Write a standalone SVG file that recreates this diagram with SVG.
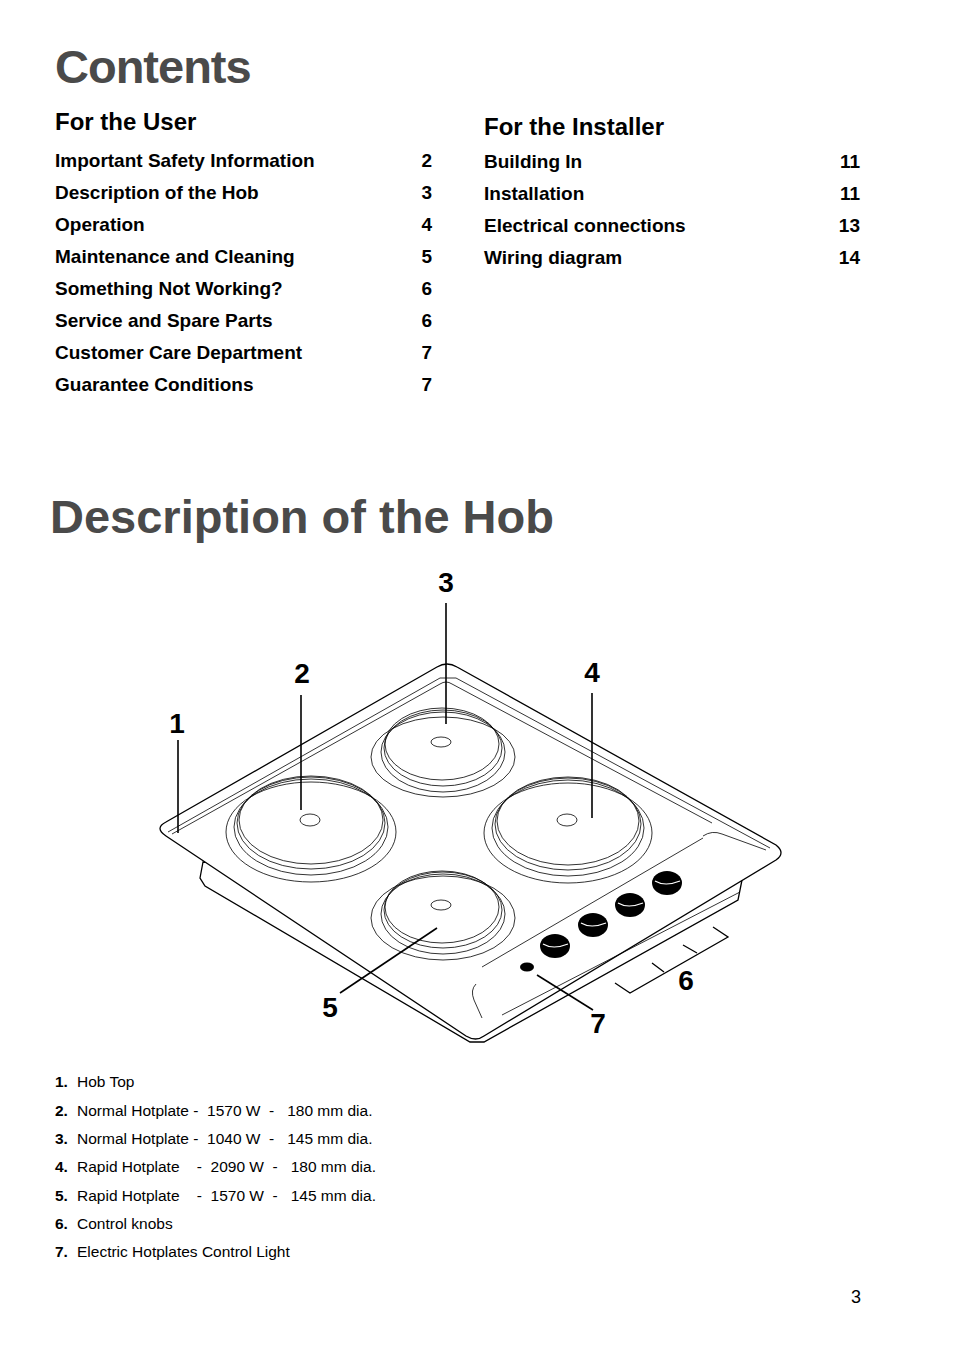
<svg xmlns="http://www.w3.org/2000/svg" width="954" height="1351" viewBox="0 0 954 1351">
<style>
text{font-family:"Liberation Sans",Arial,sans-serif;fill:#000}
.h1{font-size:47px;font-weight:bold;fill:#4a4a4a}
.h2{font-size:24px;font-weight:bold}
.e{font-size:19px;font-weight:bold}
.n{font-size:19px;font-weight:bold;text-anchor:end}
.lbl{font-size:28px;font-weight:bold;text-anchor:middle}
.li{font-size:15.5px}
.lb{font-size:15.5px;font-weight:bold}
.s{fill:none;stroke:#000;stroke-width:1.3}
.t{fill:none;stroke:#000;stroke-width:0.8}
.w{fill:#fff;stroke:#000;stroke-width:1.3}
.k{fill:#000}
.ld{fill:none;stroke:#000;stroke-width:1.6}
</style>
<rect width="954" height="1351" fill="#fff"/>
<text class="h1" x="55" y="83" letter-spacing="-1">Contents</text>
<text class="h2" x="55" y="130">For the User</text>
<g>
<text class="e" x="55" y="167">Important Safety Information</text><text class="n" x="432" y="167">2</text>
<text class="e" x="55" y="199">Description of the Hob</text><text class="n" x="432" y="199">3</text>
<text class="e" x="55" y="231">Operation</text><text class="n" x="432" y="231">4</text>
<text class="e" x="55" y="263">Maintenance and Cleaning</text><text class="n" x="432" y="263">5</text>
<text class="e" x="55" y="295">Something Not Working?</text><text class="n" x="432" y="295">6</text>
<text class="e" x="55" y="327">Service and Spare Parts</text><text class="n" x="432" y="327">6</text>
<text class="e" x="55" y="359">Customer Care Department</text><text class="n" x="432" y="359">7</text>
<text class="e" x="55" y="391">Guarantee Conditions</text><text class="n" x="432" y="391">7</text>
</g>
<text class="h2" x="484" y="135">For the Installer</text>
<g>
<text class="e" x="484" y="168">Building In</text><text class="n" x="860" y="168">11</text>
<text class="e" x="484" y="200">Installation</text><text class="n" x="860" y="200">11</text>
<text class="e" x="484" y="232">Electrical connections</text><text class="n" x="860" y="232">13</text>
<text class="e" x="484" y="264">Wiring diagram</text><text class="n" x="860" y="264">14</text>
</g>
<text class="h1" x="50" y="533">Description of the Hob</text>

<g id="hob">
<path class="w" d="M203,862 L200,878 L205,886 L470,1042 L484,1042 L738,900 L742,880 Z"/>
<path class="w" d="M437,667 Q447,661 457,667 L776,845 Q786,853 776,860 L484,1036 Q476,1042 466,1036 L166,836 Q154,828 166,822 Z"/>
<path class="t" d="M172,834 L440,684 Q446,680 452,684 L712,823"/>
<path class="t" d="M168,832 L440,678 L456,678 L770,848"/>
<path class="t" d="M703,836 Q712,830 722,834 L766,850"/>
<path class="t" d="M476,984 Q470,990 474,1000 L482,1018"/>
<path class="t" d="M502,1015 L740,892"/>
<path class="t" d="M482,967 L703,838"/>
</g>
<g id="burner3">
<ellipse class="t" cx="443" cy="757" rx="72" ry="40"/>
<ellipse class="t" cx="443" cy="752" rx="62" ry="40"/>
<ellipse class="t" cx="443" cy="748" rx="59" ry="38"/>
<ellipse class="t" cx="442" cy="744" rx="57" ry="36"/>
<ellipse class="t" cx="441" cy="742" rx="10" ry="5"/>
</g>
<g id="burner2">
<ellipse class="t" cx="311" cy="832" rx="85" ry="50"/>
<ellipse class="t" cx="311" cy="827" rx="77" ry="48"/>
<ellipse class="t" cx="311" cy="823" rx="74" ry="46"/>
<ellipse class="t" cx="311" cy="820" rx="72" ry="44"/>
<ellipse class="t" cx="310" cy="820" rx="10" ry="6"/>
</g>
<g id="burner4">
<ellipse class="t" cx="568" cy="833" rx="84" ry="50"/>
<ellipse class="t" cx="568" cy="828" rx="76" ry="48"/>
<ellipse class="t" cx="568" cy="824" rx="73" ry="46"/>
<ellipse class="t" cx="568" cy="821" rx="71" ry="44"/>
<ellipse class="t" cx="567" cy="820" rx="10" ry="6"/>
</g>
<g id="burner5">
<ellipse class="t" cx="443" cy="918" rx="72" ry="42"/>
<ellipse class="t" cx="443" cy="914" rx="62" ry="40"/>
<ellipse class="t" cx="443" cy="910" rx="59" ry="38"/>
<ellipse class="t" cx="442" cy="907" rx="57" ry="36"/>
<ellipse class="t" cx="441" cy="905" rx="10" ry="5"/>
</g>
<g id="knobs">
<ellipse class="k" cx="555" cy="946" rx="15" ry="12"/>
<ellipse class="k" cx="593" cy="925" rx="15" ry="12"/>
<ellipse class="k" cx="630" cy="905" rx="15" ry="12"/>
<ellipse class="k" cx="667" cy="883" rx="15" ry="12"/>
<g stroke="#fff" stroke-width="1.2" fill="none">
<path d="M543,944 Q553,950 568,944"/><path d="M581,923 Q591,929 606,923"/><path d="M618,903 Q628,909 643,903"/><path d="M655,881 Q665,887 680,881"/>
</g>
</g>
<g id="light"><ellipse class="k" cx="527" cy="967" rx="7" ry="4.5"/></g>
<g id="connectors">
<path class="ld" d="M178,740 V833"/>
<path class="ld" d="M301,695 V810"/>
<path class="ld" d="M446,603 V724"/>
<path class="ld" d="M592,693 V818"/>
<path class="ld" d="M340,993 L437,928"/>
<path class="ld" d="M537,975 L593,1010"/>
<path class="s" d="M615,983 L630,993 L728,937 L713,927 M652,963 L664,972 M683,945 L697,953"/>
</g>
<g id="labels">
<text class="lbl" x="446" y="592">3</text>
<text class="lbl" x="302" y="683">2</text>
<text class="lbl" x="592" y="682">4</text>
<text class="lbl" x="177" y="733">1</text>
<text class="lbl" x="330" y="1017">5</text>
<text class="lbl" x="686" y="990">6</text>
<text class="lbl" x="598" y="1033">7</text>
</g>
<g>
<text class="lb" x="55" y="1087">1.</text><text class="li" x="77" y="1087">Hob Top</text>
<text class="lb" x="55" y="1116">2.</text><text class="li" x="77" y="1116" xml:space="preserve">Normal Hotplate -  1570 W  -   180 mm dia.</text>
<text class="lb" x="55" y="1144">3.</text><text class="li" x="77" y="1144" xml:space="preserve">Normal Hotplate -  1040 W  -   145 mm dia.</text>
<text class="lb" x="55" y="1172">4.</text><text class="li" x="77" y="1172" xml:space="preserve">Rapid Hotplate    -  2090 W  -   180 mm dia.</text>
<text class="lb" x="55" y="1201">5.</text><text class="li" x="77" y="1201" xml:space="preserve">Rapid Hotplate    -  1570 W  -   145 mm dia.</text>
<text class="lb" x="55" y="1229">6.</text><text class="li" x="77" y="1229">Control knobs</text>
<text class="lb" x="55" y="1257">7.</text><text class="li" x="77" y="1257">Electric Hotplates Control Light</text>
</g>
<text x="856" y="1303" style="font-size:18px" text-anchor="middle">3</text>
</svg>
